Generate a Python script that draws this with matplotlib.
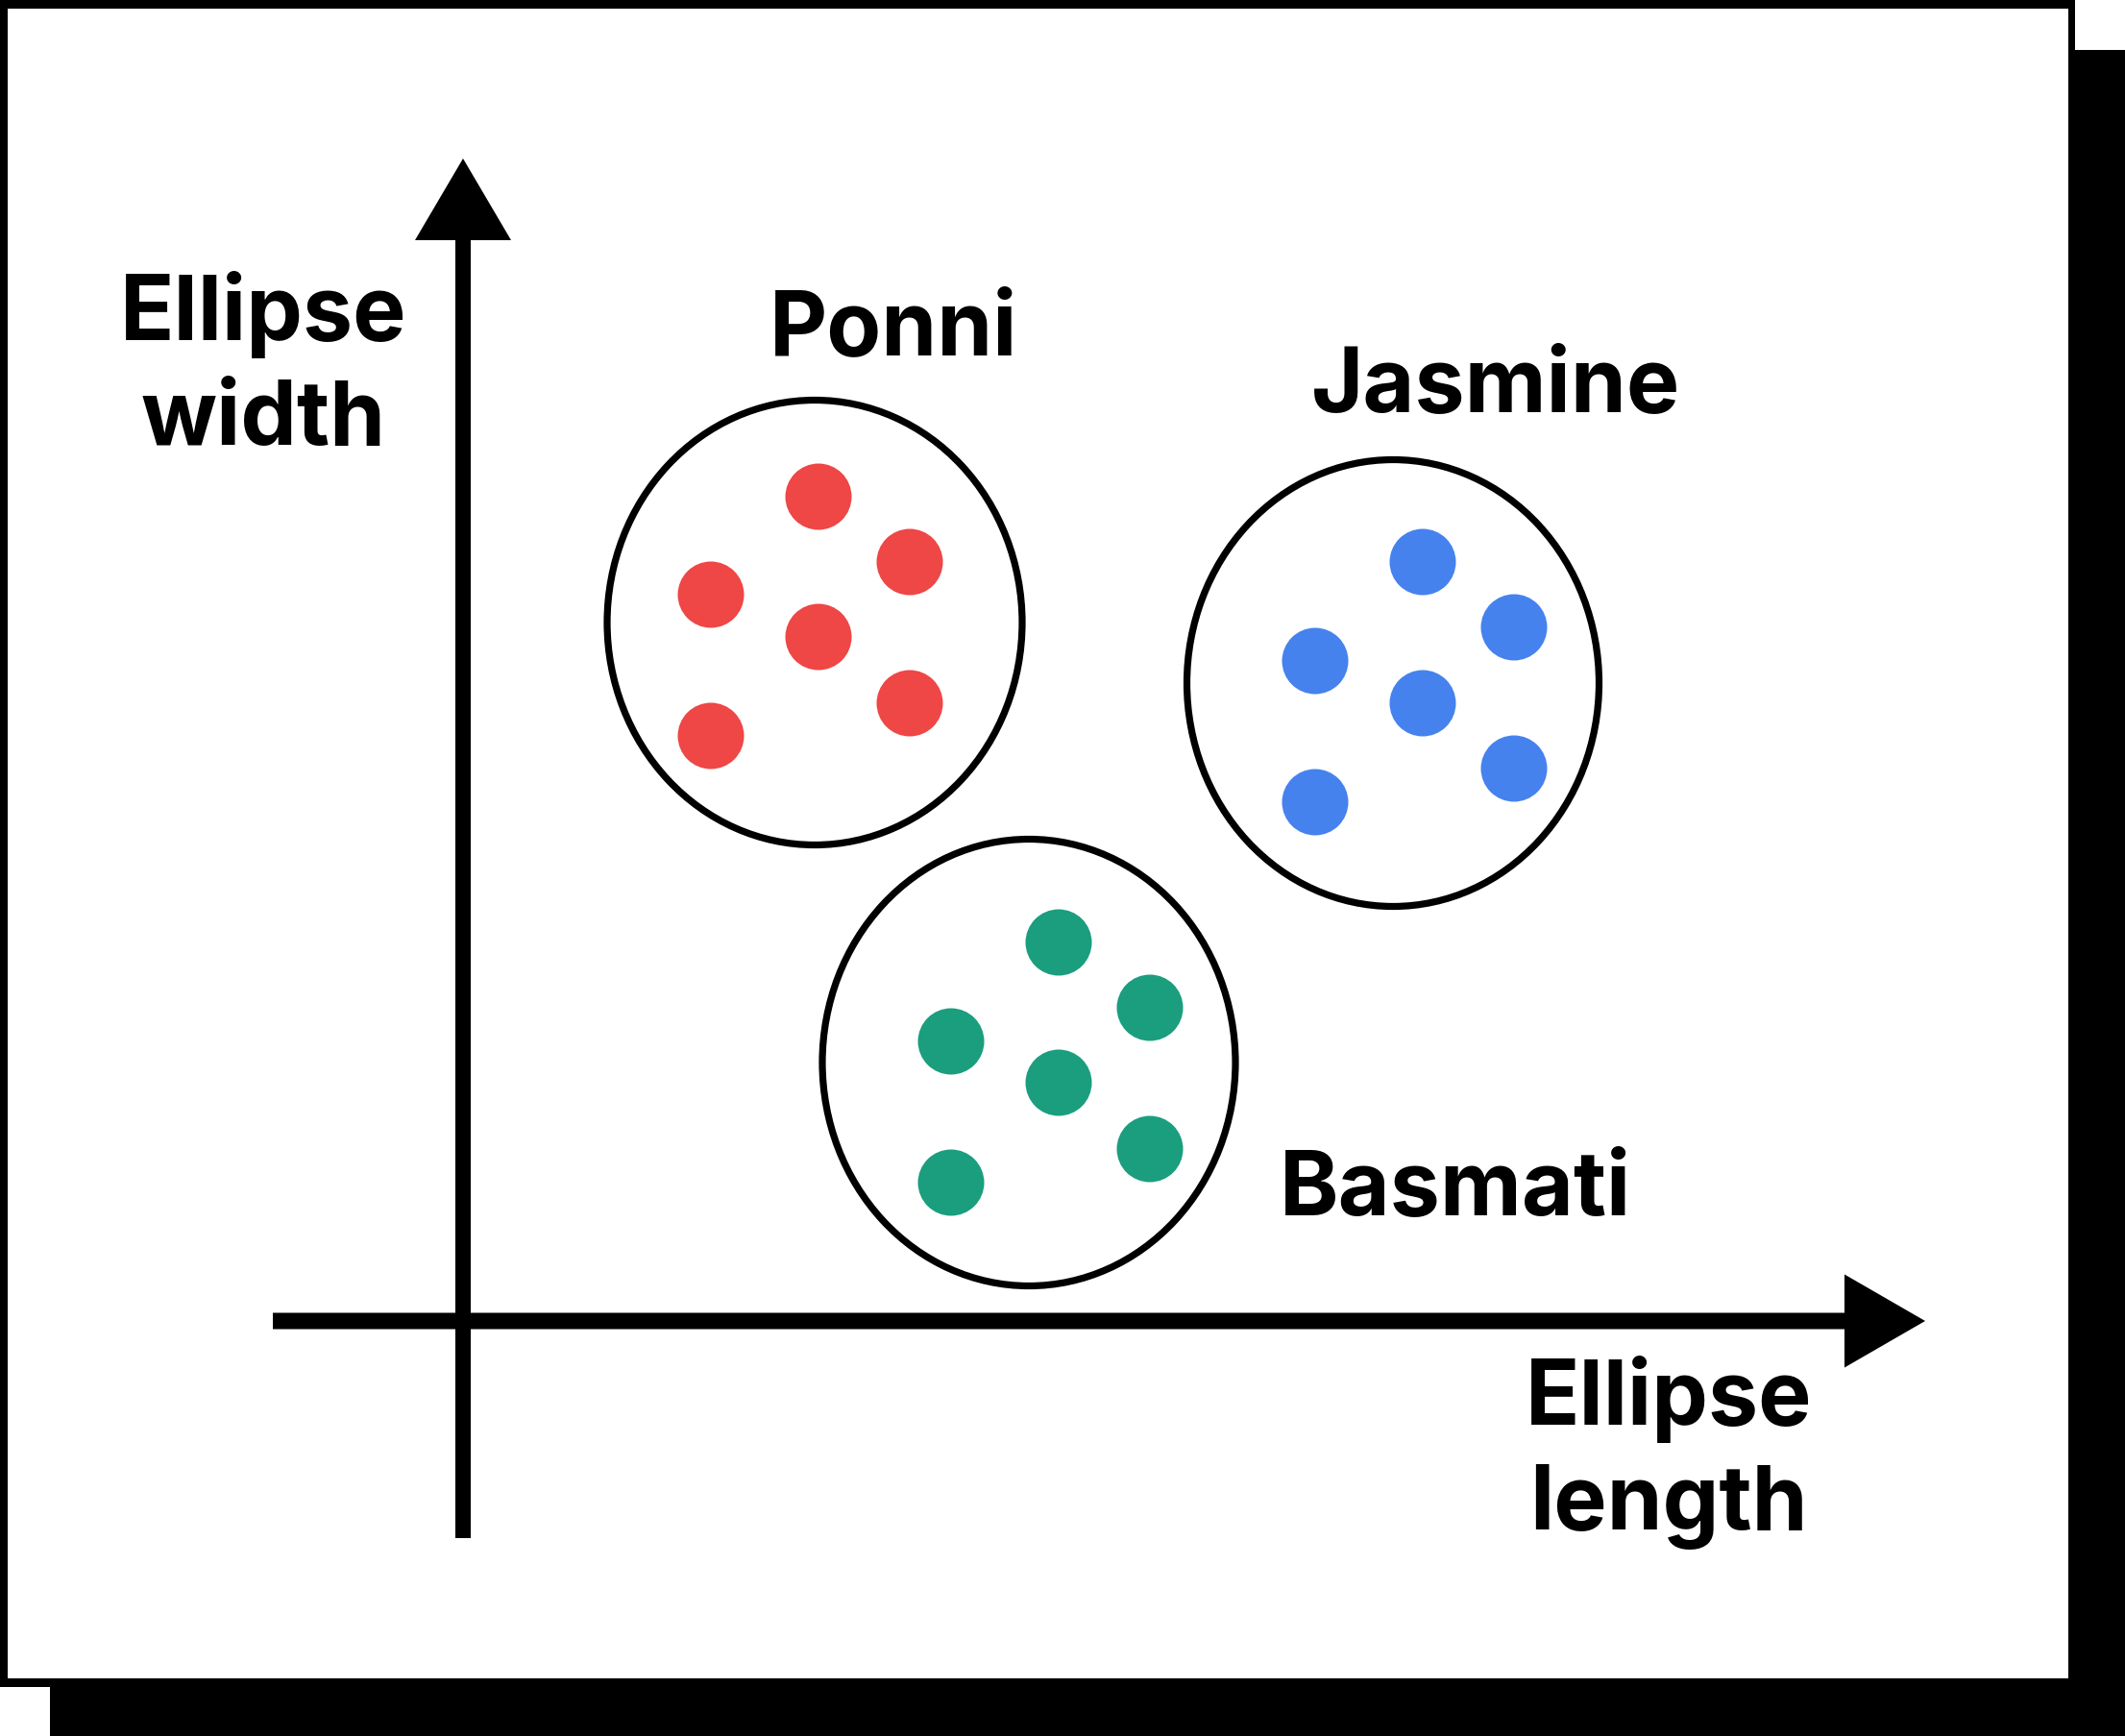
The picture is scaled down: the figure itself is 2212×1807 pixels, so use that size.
import matplotlib
matplotlib.use("Agg")
import matplotlib.pyplot as plt
from matplotlib.patches import Ellipse, Rectangle, FancyArrow

# ---------------- data ----------------
groups = ["Ponni", "Jasmine", "Basmati"]
colors = ["#EF4646", "#4682EE", "#1A9E7E"]

ponni_x = [3.70, 4.65, 2.58, 3.70, 4.65, 2.58]
ponni_y = [8.58, 7.90, 7.56, 7.12, 6.43, 6.09]

jasmine_x = [9.99, 10.94, 8.87, 9.99, 10.94, 8.87]
jasmine_y = [7.90, 7.22, 6.87, 6.43, 5.75, 5.40]

basmati_x = [6.20, 7.15, 5.08, 6.20, 7.15, 5.08]
basmati_y = [3.94, 3.26, 2.91, 2.48, 1.79, 1.44]

# cluster ellipses: centre x, centre y, width, height
ell_cx = [3.66, 9.68, 5.89]
ell_cy = [7.27, 6.64, 2.69]
ell_w = [4.32, 4.29, 4.30]
ell_h = [4.63, 4.65, 4.65]

# label anchor (centre x, baseline y)
lab_x = [4.48, 10.75, 10.33]
lab_y = [10.06, 9.46, 1.10]

x_label = "Ellipse\nlength"
y_label = "Ellipse\nwidth"

# ---------------- figure ----------------
W, H = 2212, 1807
fig = plt.figure(figsize=(W / 100, H / 100), dpi=100)
fig.patch.set_facecolor("white")

def fr(x0, y0, x1, y1, color):
    # pixel box (top-left origin) -> figure fraction rectangle
    r = Rectangle((x0 / W, 1 - y1 / H), (x1 - x0) / W, (y1 - y0) / H,
                  transform=fig.transFigure, facecolor=color,
                  edgecolor="none", zorder=-10)
    fig.patches.append(r)

fr(52, 52, W, H, "black")          # shadow
fr(0, 0, 2160, 1756, "black")      # card border
fr(8, 9, 2153, 1747, "white")      # card face

ax = fig.add_axes([0, 0, 1, 1])
ax.set_facecolor("none")
ax.set_xlim(-4.82, 17.30)
ax.set_ylim(-4.32, 13.75)
ax.axis("off")

font = ["Inter", "DejaVu Sans"]
fs = 67

# axes arrows
ax.add_patch(FancyArrow(0, -2.26, 0, 12.10 + 2.26, width=0.16,
                        head_width=1.0, head_length=0.85,
                        length_includes_head=True, color="black", lw=0))
ax.add_patch(FancyArrow(-1.98, 0, 15.22 + 1.98, 0, width=0.17,
                        head_width=0.97, head_length=0.84,
                        length_includes_head=True, color="black", lw=0))

# clusters
xs = [ponni_x, jasmine_x, basmati_x]
ys = [ponni_y, jasmine_y, basmati_y]
for i, g in enumerate(groups):
    ax.add_patch(Ellipse((ell_cx[i], ell_cy[i]), ell_w[i], ell_h[i],
                         facecolor="none", edgecolor="black", lw=5.2))
    ax.scatter(xs[i], ys[i], s=(69 * 0.72) ** 2, color=colors[i],
               edgecolors="none", zorder=3)
    ax.text(lab_x[i], lab_y[i], g, ha="center", va="baseline",
            fontsize=fs, fontweight="bold", family=font)

# multi-line labels: anchor is baseline of the last line
ax.text(-2.08, 9.12, y_label, ha="center", va="baseline",
        multialignment="center", fontsize=fs, fontweight="bold",
        family=font, linespacing=1.32)
ax.text(12.55, -2.17, x_label, ha="center", va="baseline",
        multialignment="center", fontsize=fs, fontweight="bold",
        family=font, linespacing=1.32)

fig.savefig("out.png", dpi=100)
